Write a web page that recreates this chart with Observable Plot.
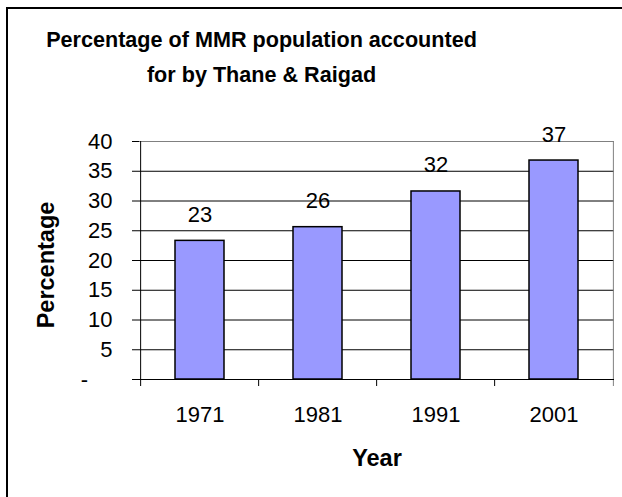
<!DOCTYPE html>
<html>
<head>
<meta charset="utf-8">
<script src="https://cdn.jsdelivr.net/npm/d3@7"></script>
<script src="https://cdn.jsdelivr.net/npm/@observablehq/plot@0.6"></script>
<style>
  html, body { margin: 0; padding: 0; background: #fff; }
  #wrap { position: relative; width: 622px; height: 497px; overflow: hidden; }
  #border { position: absolute; left: 6px; top: 7px; width: 700px; height: 600px;
            border-left: 2px solid #000; border-top: 2px solid #000; pointer-events: none; }
</style>
</head>
<body>
<div id="wrap"><div id="border"></div></div>
<script>
const years = ["1971", "1981", "1991", "2001"];
const values = [23.3, 25.6, 31.6, 36.8];
const yTicks = [0, 5, 10, 15, 20, 25, 30, 35, 40];
const gridTicks = [5, 10, 15, 20, 25, 30, 35];
const titleLines = ["Percentage of MMR population accounted", "for by Thane & Raigad"];
const xTitle = "Year";
const yTitle = "Percentage";

const data = years.map((y, i) => ({year: y, value: values[i]}));

const W = 622, H = 497;
const mL = 139, mR = 8, mT = 141, mB = 118;
const frameH = H - mT - mB;
const frameCx = mL + (W - mL - mR) / 2;
const step = (W - mL - mR) / years.length;
const font = "'Liberation Sans', Arial, Helvetica, sans-serif";

const chart = Plot.plot({
  width: W,
  height: H,
  marginLeft: mL,
  marginRight: mR,
  marginTop: mT,
  marginBottom: mB,
  style: {background: "#fff", color: "#000", fontFamily: font, fontSize: "22px"},
  x: {domain: years, paddingInner: 0.585, paddingOuter: 0.2925, axis: null},
  y: {domain: [0, 40], axis: null},
  marks: [
    Plot.ruleY(gridTicks, {stroke: "#000", strokeWidth: 1}),
    Plot.ruleY([40], {stroke: "#808080", strokeWidth: 1}),
    // category boundary ticks
    Plot.ruleX(years.slice(1), {x: d => d, dx: -step / 2, insetTop: frameH, insetBottom: -7, stroke: "#000"}),
    Plot.ruleX(years.slice(0, 1), {x: d => d, dx: -step / 2, insetBottom: -7, stroke: "#000"}),
    Plot.ruleX(years.slice(-1), {x: d => d, dx: step / 2, insetBottom: -7, stroke: "#808080"}),
    Plot.axisY({ticks: yTicks, tickSize: 7, tickPadding: 20, fontSize: 22, stroke: "#000",
      tickFormat: d => d === 0 ? "-\u2007\u2007" : String(d), label: null}),
    Plot.axisX({tickSize: 0, tickPadding: 27, fontSize: 22, label: null}),
    Plot.barY(data, {x: "year", y: "value", fill: "#9999FF", stroke: "#000", strokeWidth: 1.5}),
    Plot.ruleY([0], {stroke: "#000", strokeWidth: 1}),
    Plot.text(data, {x: "year", y: "value", text: d => String(Math.round(d.value)),
      dy: -19, lineAnchor: "bottom", fontSize: 22, fill: "#000"}),
    Plot.text([titleLines[0]], {text: d => d, frameAnchor: "top", textAnchor: "middle", dx: 261 - frameCx,
      dy: 46.5 - mT, lineAnchor: "bottom", fontSize: 21.6, fontWeight: "bold", fill: "#000"}),
    Plot.text([titleLines[1]], {text: d => d, frameAnchor: "top", textAnchor: "middle", dx: 261 - frameCx,
      dy: 81.5 - mT, lineAnchor: "bottom", fontSize: 21.6, fontWeight: "bold", fill: "#000"}),
    Plot.text([xTitle], {text: d => d, frameAnchor: "bottom", textAnchor: "middle", dy: 465 - (H - mB),
      lineAnchor: "bottom", fontSize: 23.5, fontWeight: "bold", fill: "#000"}),
    Plot.text([yTitle], {text: d => d, frameAnchor: "left", textAnchor: "middle", dx: 45.5 - mL,
      dy: 264.5 - (mT + frameH / 2), rotate: -90, lineAnchor: "middle", fontSize: 23.5,
      fontWeight: "bold", fill: "#000"})
  ]
});
document.getElementById("wrap").prepend(chart);
</script>
</body>
</html>
